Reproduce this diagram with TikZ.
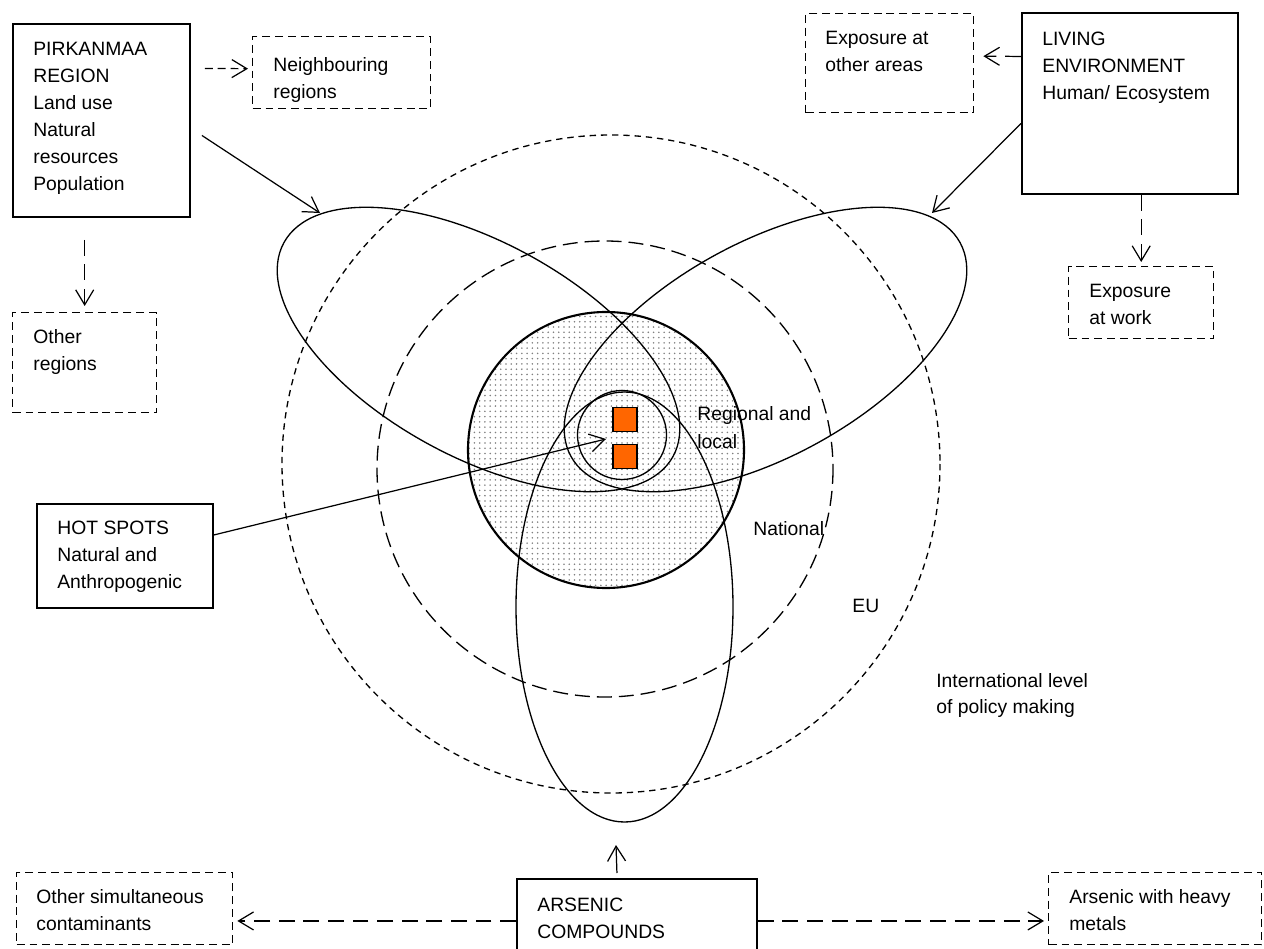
\documentclass[tikz,border=0pt]{standalone}
\usepackage{fontspec}
\setmainfont{Liberation Sans}
\usetikzlibrary{arrows.meta,patterns}
\definecolor{hotorange}{RGB}{255,102,0}

\begin{document}
\begin{tikzpicture}[x=0.02cm, y=-0.02cm,
	every node/.style={font=\fontsize{11}{15.3}\selectfont},
	solidbox/.style={draw, line width=1.1pt, anchor=north west, inner sep=0pt},
	dashbox/.style={draw, line width=0.8pt, dash pattern=on 4.5pt off 2.8pt, anchor=north west, inner sep=0pt},
	boxtext/.style={anchor=north west, inner sep=0pt, align=left},
	arr/.style={-{Straight Barb[length=3mm,width=3.6mm]}, line width=0.7pt},
	darr/.style={arr, dash pattern=on 9pt off 5pt},
	shortdash/.style={dash pattern=on 4.5pt off 2.8pt},
	curve/.style={line width=0.75pt},
	hotspot/.style={draw, fill=hotorange, minimum size=0.48cm, inner sep=0pt, line width=0.6pt}]
\clip (0,0) rectangle (1264,949);

	% levels of policy making
	\draw[line width=1.2pt, pattern=dots, pattern color=black!50] (606,450) circle [radius=138];
	\draw[curve, dash pattern=on 3.6pt off 2.8pt] (611,464) circle [radius=329];
	\draw[curve, dash pattern=on 8.5pt off 4pt] (605,469) circle [radius=228];
	\draw[curve] (622,435) circle [radius=44.5];

	\draw[curve, rotate around={-28.8:(478.5,349.5)}] (478.5,349.5) ellipse [x radius=222, y radius=107];
	\draw[curve, rotate around={28.8:(765.5,349.5)}] (765.5,349.5) ellipse [x radius=222, y radius=107];
	\draw[curve] (624.5,607) ellipse [x radius=108.5, y radius=215];

	\node[hotspot](spot1) at (625,419.5){};
	\node[hotspot](spot2) at (625,456.5){};

	\node[boxtext, font=\fontsize{11}{16}\selectfont](regLabel) at (697,406){Regional and\\local};
	\node[boxtext](natLabel) at (753,521){National};
	\node[boxtext](euLabel) at (852,599){EU};
	\node[boxtext, font=\fontsize{11}{14.8}\selectfont](intLabel) at (936,673){International level\\of policy making};

	% boxes
	\node[solidbox, minimum width=3.54cm, minimum height=3.86cm](pirk) at (12,23){};
	\node[boxtext] at ([shift={(21,19)}]pirk.north west){PIRKANMAA\\REGION\\Land use\\Natural\\resources\\Population};
	\node[dashbox, minimum width=3.56cm, minimum height=1.44cm](neigh) at (252,36){};
	\node[boxtext] at ([shift={(21,21)}]neigh.north west){Neighbouring\\regions};
	\node[dashbox, minimum width=2.88cm, minimum height=2cm](other) at (12,312){};
	\node[boxtext] at ([shift={(21,17)}]other.north west){Other\\regions};
	\node[solidbox, minimum width=3.52cm, minimum height=2.08cm](hot) at (36,503){};
	\node[boxtext] at ([shift={(21,18)}]hot.north west){HOT SPOTS\\Natural and\\Anthropogenic};

	\node[solidbox, minimum width=4.32cm, minimum height=3.62cm](living) at (1021,12){};
	\node[boxtext] at ([shift={(21,20)}]living.north west){LIVING\\ENVIRONMENT\\Human/ Ecosystem};
	\node[dashbox, minimum width=3.36cm, minimum height=1.98cm](expo) at (805,13){};
	\node[boxtext] at ([shift={(20,18)}]expo.north west){Exposure at\\other areas};
	\node[dashbox, minimum width=2.9cm, minimum height=1.44cm](work) at (1068,266){};
	\node[boxtext] at ([shift={(21,18)}]work.north west){Exposure\\at work};

	\node[solidbox, minimum width=4.8cm, minimum height=1.68cm](ars) at (516,878){};
	\node[boxtext] at ([shift={(21,20)}]ars.north west){ARSENIC\\COMPOUNDS};
	\node[dashbox, minimum width=4.32cm, minimum height=1.44cm](simul) at (16,872){};
	\node[boxtext] at ([shift={(20,17)}]simul.north west){Other simultaneous\\contaminants};
	\node[dashbox, minimum width=4.26cm, minimum height=1.44cm](heavy) at (1048,872){};
	\node[boxtext] at ([shift={(21,17)}]heavy.north west){Arsenic with heavy\\metals};

	% connectors
	\coordinate (ellLtop) at (320,213);
	\coordinate (ellRtop) at (932,213);
	\coordinate (core) at (606,439);
	\coordinate (ellBtip) at (616,845);

	\draw[arr] ([shift={(11,15)}]pirk.east) -- (ellLtop);
	\draw[arr] ([shift={(0,20)}]living.west) -- (ellRtop);
	\draw[arr] ([shift={(0,-21)}]hot.east) -- (core);
	\draw[arr] ([shift={(-20,-5)}]ars.north) -- (ellBtip);

	\draw[darr, shortdash] ([shift={(14,-52)}]pirk.east) -- ([shift={(-4,-4)}]neigh.west);
	\draw[darr] ([shift={(0,-47)}]living.west) -- ([shift={(9,-7)}]expo.east);
	\draw[darr, shorten <=4.4mm] (pirk.south -| other.north) -- ([shift={(0,-6)}]other.north);
	\draw[darr] (living.south -| work.north) -- ([shift={(0,-4)}]work.north);
	\draw[darr] (ars.west) -- ([shift={(4,0)}]ars.west -| simul.east);
	\draw[darr] (ars.east) -- ([shift={(-4,0)}]ars.east -| heavy.west);
\end{tikzpicture}
\end{document}
